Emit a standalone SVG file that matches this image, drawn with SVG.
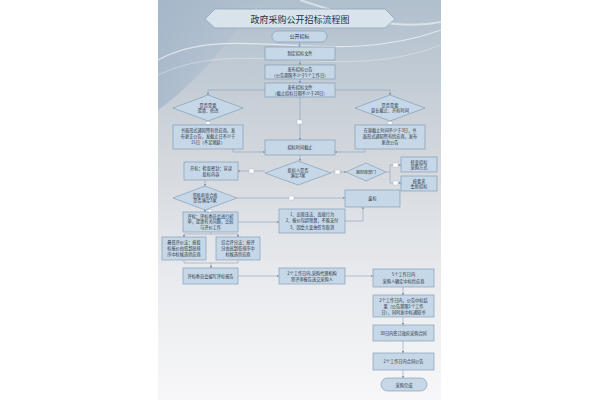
<svg xmlns="http://www.w3.org/2000/svg" width="600" height="400" viewBox="0 0 600 400">
<defs>
<linearGradient id="bg" x1="0" y1="0" x2="0" y2="1">
<stop offset="0" stop-color="#b0bfcd"/>
<stop offset="0.35" stop-color="#d0d5db"/>
<stop offset="0.7" stop-color="#e9ebee"/>
<stop offset="1" stop-color="#f7f7f9"/>
</linearGradient>
<linearGradient id="wash" x1="0" y1="0" x2="1" y2="0">
<stop offset="0" stop-color="#9fb3c8" stop-opacity="0.7"/>
<stop offset="1" stop-color="#9fb3c8" stop-opacity="0"/>
</linearGradient>
<marker id="ar" viewBox="0 0 6 6" refX="5.5" refY="3" markerWidth="4" markerHeight="4" orient="auto">
<path d="M0,0 L6,3 L0,6 z" fill="#8095ad"/>
</marker>
<style>
.n{fill:#c6d8e8;stroke:#7893b0;stroke-width:0.6}
.t{font-family:"Noto Sans CJK SC","Noto Sans",sans-serif;font-size:4.2px;fill:#2a3040;text-anchor:middle}
.c{fill:none;stroke:#8aa0b8;stroke-width:0.6}
.a{marker-end:url(#ar)}
.l{fill:#ffffff;stroke:#a8b4c2;stroke-width:0.4}
</style>
</defs>
<rect x="0" y="0" width="600" height="400" fill="#ffffff"/>
<rect x="158" y="0" width="283" height="400" fill="url(#bg)"/>
<path d="M158,0 H260 C230,40 200,80 158,110 Z" fill="url(#wash)"/>
<path d="M158,60 C230,20 330,70 441,30" fill="none" stroke="#ffffff" stroke-opacity="0.6" stroke-width="1.2"/>
<path d="M158,75 C240,35 340,85 441,45" fill="none" stroke="#ffffff" stroke-opacity="0.4" stroke-width="0.8"/>
<path d="M300,0 C360,20 400,30 441,22" fill="none" stroke="#ffffff" stroke-opacity="0.5" stroke-width="2"/>

<g id="title">
<polygon points="205,19 215,9 385,9 395,19 385,28 215,28" fill="#d9e3ec" stroke="#8fa6bd" stroke-width="0.8"/>
<text x="300" y="22.5" class="t" style="font-size:9px">政府采购公开招标流程图</text>
</g>

<g id="connectors">
<path class="c a" d="M299.5,42 V47"/>
<path class="c a" d="M300,60 V65"/>
<path class="c a" d="M300,79 V83"/>
<path class="c a" d="M300,97 V140"/>
<path class="c a" d="M265,90 H208 V95"/>
<path class="c a" d="M335,90 H390 V95"/>
<path class="c a" d="M208,121 V125"/>
<path class="c a" d="M390,121 V125"/>
<path class="c a" d="M233,149 V152 H265"/>
<path class="c a" d="M365,149 V152 H335"/>
<path class="c a" d="M300,155 V161"/>
<path class="c a" d="M265,171 H238"/>
<path class="c a" d="M331,172 H346"/>
<path class="c a" d="M386,172 H390 V165 H401"/>
<path class="c a" d="M390,172 V183 H401"/>
<path class="c a" d="M205,180 V186"/>
<path class="c a" d="M237,198 H345"/>
<path class="c a" d="M205,210 V212"/>
<path class="c a" d="M238,222 H279"/>
<path class="c a" d="M345,221 H363 V207"/>
<path class="c" d="M211,232 V234 M184,234 H238"/>
<path class="c a" d="M184,234 V237"/>
<path class="c a" d="M238,234 V237"/>
<path class="c" d="M184,260 V263 H238 V260"/>
<path class="c a" d="M211,263 V268"/>
<path class="c a" d="M238,276 H279"/>
<path class="c a" d="M345,276 H373"/>
<path class="c a" d="M403,287 V295"/>
<path class="c a" d="M403,317 V325"/>
<path class="c a" d="M403,341 V353"/>
<path class="c a" d="M403,370 V378"/>
<rect class="l" x="297" y="120" width="5" height="4"/>
<rect class="l" x="206" y="121.5" width="4" height="3"/>
<rect class="l" x="388" y="121.5" width="4" height="3"/>
<rect class="l" x="249" y="169" width="5" height="4"/>
<rect class="l" x="335" y="170" width="5" height="4"/>
<rect class="l" x="393" y="163" width="5" height="4"/>
<rect class="l" x="393" y="181" width="5" height="4"/>
<rect class="l" x="289" y="196" width="5" height="4"/>
<rect class="l" x="208" y="209.5" width="4" height="3"/>
</g>

<g id="n1"><rect class="n" x="272" y="31" width="55" height="11" rx="5.5"/><text class="t" x="299.5" y="38.3" style="font-size:5px">公开招标</text></g>
<g id="n2"><rect class="n" x="265" y="47" width="70" height="13"/><text class="t" x="300" y="55">制定招标文件</text></g>
<g id="n3"><rect class="n" x="265" y="65" width="70" height="14"/><text class="t" x="300" y="71">发布招标公告</text><text class="t" x="300" y="76.5">（公告期限不少于5个工作日）</text></g>
<g id="n4"><rect class="n" x="265" y="83" width="70" height="14"/><text class="t" x="300" y="89">发布招标文件</text><text class="t" x="300" y="94.5">（截止招标日期不少于20日）</text></g>
<g id="n5"><polygon class="n" points="173,108 208,95 243,108 208,121"/><text class="t" x="208" y="106.5">是否需要</text><text class="t" x="208" y="112">澄清、修改</text></g>
<g id="n6"><polygon class="n" points="355,108 390,95 425,108 390,121"/><text class="t" x="390" y="106.5">是否需要</text><text class="t" x="390" y="112">延长截止、开标时间</text></g>
<g id="n7"><rect class="n" x="173" y="125" width="70" height="24"/><text class="t" x="208" y="131.5">书面形式通知所有供应商，发</text><text class="t" x="208" y="137.5">布更正公告，发截止日不少于</text><text class="t" x="208" y="143.5">15日（不足顺延）</text></g>
<g id="n8"><rect class="n" x="355" y="125" width="70" height="24"/><text class="t" x="390" y="131.5">在原截止时间不少于3日，书</text><text class="t" x="390" y="137.5">面形式通知所有供应商，发布</text><text class="t" x="390" y="143.5">更改公告</text></g>
<g id="n9"><rect class="n" x="265" y="140" width="70" height="15"/><text class="t" x="300" y="149">招标时间截止</text></g>
<g id="n10"><polygon class="n" points="265,173 298,161 331,173 298,185"/><text class="t" x="298" y="171.5">投标人是否</text><text class="t" x="298" y="177">满足3家</text></g>
<g id="n11"><rect class="n" x="184" y="162" width="54" height="18"/><text class="t" x="211" y="169.5">开标：检查密封；宣读</text><text class="t" x="211" y="175.5">投标内容</text></g>
<g id="n12"><polygon class="n" points="346,172 366,163 386,172 366,181"/><text class="t" x="366" y="173.5" style="font-size:4px">报财政部门</text></g>
<g id="n13"><rect class="n" x="401" y="157" width="36" height="15"/><text class="t" x="419" y="163.5">转变招标</text><text class="t" x="419" y="169">采购方式</text></g>
<g id="n14"><rect class="n" x="401" y="176" width="36" height="15"/><text class="t" x="419" y="182.5">按要求</text><text class="t" x="419" y="188">重新招标</text></g>
<g id="n15"><polygon class="n" points="173,198 205,186 237,198 205,210"/><text class="t" x="205" y="196.5">资格审查合格</text><text class="t" x="205" y="202">是否满足3家</text></g>
<g id="n16"><rect class="n" x="345" y="190" width="55" height="17"/><text class="t" x="372.5" y="200">废标</text></g>
<g id="n17"><rect class="n" x="183" y="212" width="55" height="20"/><text class="t" x="210.5" y="217.5">评标：评标委员会进行初</text><text class="t" x="210.5" y="223">审，澄清有关问题，比较</text><text class="t" x="210.5" y="228.5">与评价工作</text></g>
<g id="n18"><rect class="n" x="279" y="209" width="66" height="24"/><text class="t" x="312" y="215.5">1、出现违法、违规行为</text><text class="t" x="312" y="222">2、报价均超预算，不能支付</text><text class="t" x="312" y="228.5">3、因重大变故任务取消</text></g>
<g id="n19"><rect class="n" x="162" y="237" width="44" height="23"/><text class="t" x="184" y="243.5">最低评价法：按投</text><text class="t" x="184" y="249.5">标报价由低到高排</text><text class="t" x="184" y="255.5">序中标候选供应商</text></g>
<g id="n20"><rect class="n" x="216" y="237" width="44" height="23"/><text class="t" x="238" y="243.5">综合评分法：按评</text><text class="t" x="238" y="249.5">分由高到低排序中</text><text class="t" x="238" y="255.5">标候选供应商</text></g>
<g id="n21"><rect class="n" x="183" y="268" width="55" height="16"/><text class="t" x="210.5" y="277.5">评标委员会编写评标报告</text></g>
<g id="n22"><rect class="n" x="279" y="268" width="66" height="16"/><text class="t" x="312" y="274.5">2个工作日内,采购代理机构</text><text class="t" x="312" y="280.5">将评审报告送交采购人</text></g>
<g id="n23"><rect class="n" x="373" y="269" width="61" height="18"/><text class="t" x="403.5" y="276">5个工作日内</text><text class="t" x="403.5" y="282.5">采购人确定中标供应商</text></g>
<g id="n24"><rect class="n" x="373" y="295" width="61" height="22"/><text class="t" x="403.5" y="301.5">2个工作日内，公告中标结</text><text class="t" x="403.5" y="307.5">果（公告期限1个工作</text><text class="t" x="403.5" y="313.5">日），同时发中标通知书</text></g>
<g id="n25"><rect class="n" x="373" y="325" width="61" height="16"/><text class="t" x="403.5" y="334.5">30日内签订政府采购合同</text></g>
<g id="n26"><rect class="n" x="373" y="353" width="61" height="17"/><text class="t" x="403.5" y="363">2个工作日内合同公告</text></g>
<g id="n27"><rect class="n" x="381" y="378" width="46" height="13" rx="6.5"/><text class="t" x="404" y="386.5">采购完成</text></g>
</svg>
